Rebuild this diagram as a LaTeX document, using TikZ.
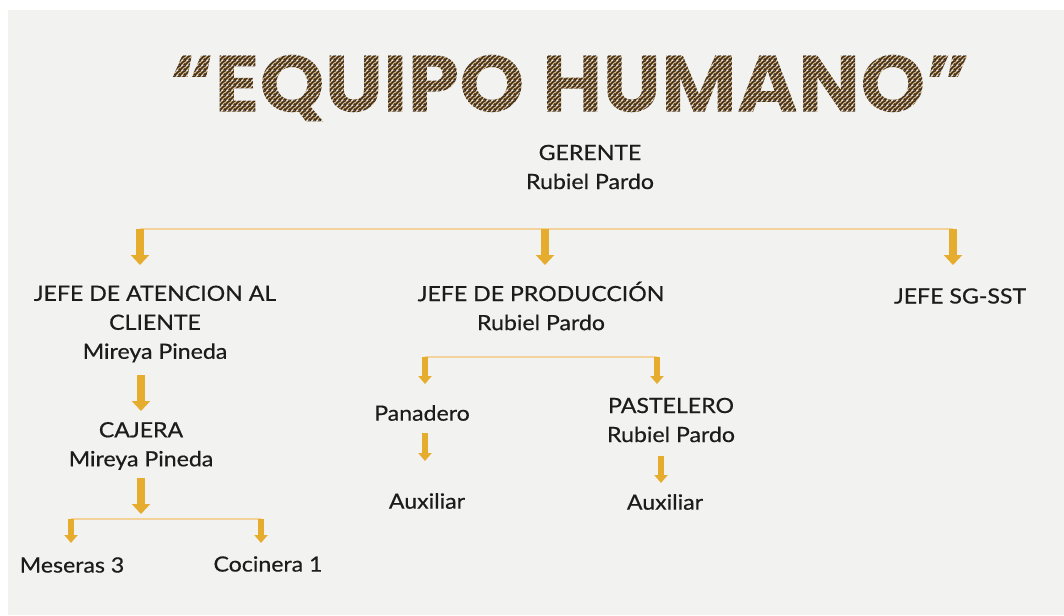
\documentclass[tikz,border=0pt]{standalone}
\usepackage{fontspec}
\usepackage{graphicx}
\setmainfont{Lato}
\newfontfamily\lblfont{Lato}[FakeBold=0.5, FakeStretch=1.1]
\newfontfamily\titlefont{Poppins}
\usetikzlibrary{arrows.meta,patterns}
\definecolor{bggray}{HTML}{F2F2F0}
\definecolor{busline}{HTML}{F3D29C}
\definecolor{gold}{HTML}{E6AC2E}
\definecolor{txt}{HTML}{1C1C1C}
\definecolor{tan}{HTML}{DDBB86}
\definecolor{stripebrown}{HTML}{3F2E1C}
\pgfdeclarepatterninherentlycolored{titlestripes}{\pgfpointorigin}{\pgfpoint{5pt}{5pt}}{\pgfpoint{5pt}{5pt}}{%
  \pgfsetfillcolor{tan}\pgfpathrectangle{\pgfpointorigin}{\pgfpoint{5pt}{5pt}}\pgfusepath{fill}%
  \pgfsetstrokecolor{stripebrown}\pgfsetlinewidth{1.8pt}%
  \pgfpathmoveto{\pgfpoint{-1pt}{-1pt}}\pgfpathlineto{\pgfpoint{6pt}{6pt}}%
  \pgfpathmoveto{\pgfpoint{-1pt}{4pt}}\pgfpathlineto{\pgfpoint{1pt}{6pt}}%
  \pgfpathmoveto{\pgfpoint{4pt}{-1pt}}\pgfpathlineto{\pgfpoint{6pt}{1pt}}%
  \pgfusepath{stroke}}
\newcommand\ttltext{\resizebox{800pt}{57pt}{\bfseries “EQUIPO HUMANO”}}
\tikzset{
  lbl/.style={text=txt, align=center, inner sep=0pt, font=\lblfont\fontsize{21}{29}\selectfont},
  ttl/.style={inner sep=0pt, font=\titlefont},
  bus/.style={draw=busline, line width=2.2pt},
  bigarr/.style={draw=gold, line width=8pt, -{Triangle[width=18pt,length=10pt]}},
  smallarr/.style={draw=gold, line width=6pt, -{Triangle[width=13pt,length=8pt]}},
}
\begin{document}
\begin{tikzpicture}[x=1pt,y=-1pt]
\useasboundingbox (0,0) rectangle (1064,615);
\fill[white] (0,0) rectangle (1064,615);
\fill[bggray] (8,10) rectangle (1064,615);
% title
\node[ttl] (title) at (570,88) {\pgfsetfillpattern{titlestripes}{black}\ttltext};
% nodes
\node[lbl] (ger) at (590,167) {GERENTE\\Rubiel Pardo};
\node[lbl] (jatc) at (155,324) {JEFE DE ATENCION AL\\CLIENTE\\Mireya Pineda};
\node[lbl] (jprod) at (541,306) {JEFE DE PRODUCCIÓN\\Rubiel Pardo};
\node[lbl] (jsst) at (960,296) {JEFE SG-SST};
\node[lbl] (caj) at (141,446) {CAJERA\\Mireya Pineda};
\node[lbl] (mes) at (72,565) {Meseras 3};
\node[lbl] (coc) at (268,564) {Cocinera 1};
\node[lbl] (pan) at (422,413) {Panadero};
\node[lbl] (aux1) at (427,501) {Auxiliar};
\node[lbl] (pas) at (671,420) {PASTELERO\\Rubiel Pardo};
\node[lbl] (aux2) at (665,502) {Auxiliar};
% bus 1
\coordinate (b1l) at (140,229);
\coordinate (b1m) at (545,229);
\coordinate (b1r) at (953,229);
\draw[bus] (b1l) -- (b1r);
\draw[bigarr] (b1l) -- (140,265);
\draw[bigarr] (b1m) -- (545,265);
\draw[bigarr] (b1r) -- (953,265);
% atencion -> cajera
\coordinate (c1a) at (141,375);
\coordinate (c1b) at (141,411);
\draw[bigarr] (c1a) -- (c1b);
\coordinate (c2a) at (141,478);
\coordinate (c2b) at (141,514);
\draw[bigarr] (c2a) -- (c2b);
% bus 2
\coordinate (b2l) at (71,519);
\coordinate (b2r) at (261,519);
\draw[bus] (b2l) -- (b2r);
\draw[smallarr] (b2l) -- (71,543);
\draw[smallarr] (b2r) -- (261,543);
% bus 3
\coordinate (b3l) at (425,357);
\coordinate (b3r) at (657,357);
\draw[bus] (b3l) -- (b3r);
\draw[smallarr] (b3l) -- (425,384);
\draw[smallarr] (b3r) -- (657,384);
% panadero / pastelero -> auxiliar
\coordinate (p1a) at (425,433);
\coordinate (p1b) at (425,461);
\draw[smallarr] (p1a) -- (p1b);
\coordinate (p2a) at (661,456);
\coordinate (p2b) at (661,483);
\draw[smallarr] (p2a) -- (p2b);
\end{tikzpicture}
\end{document}
